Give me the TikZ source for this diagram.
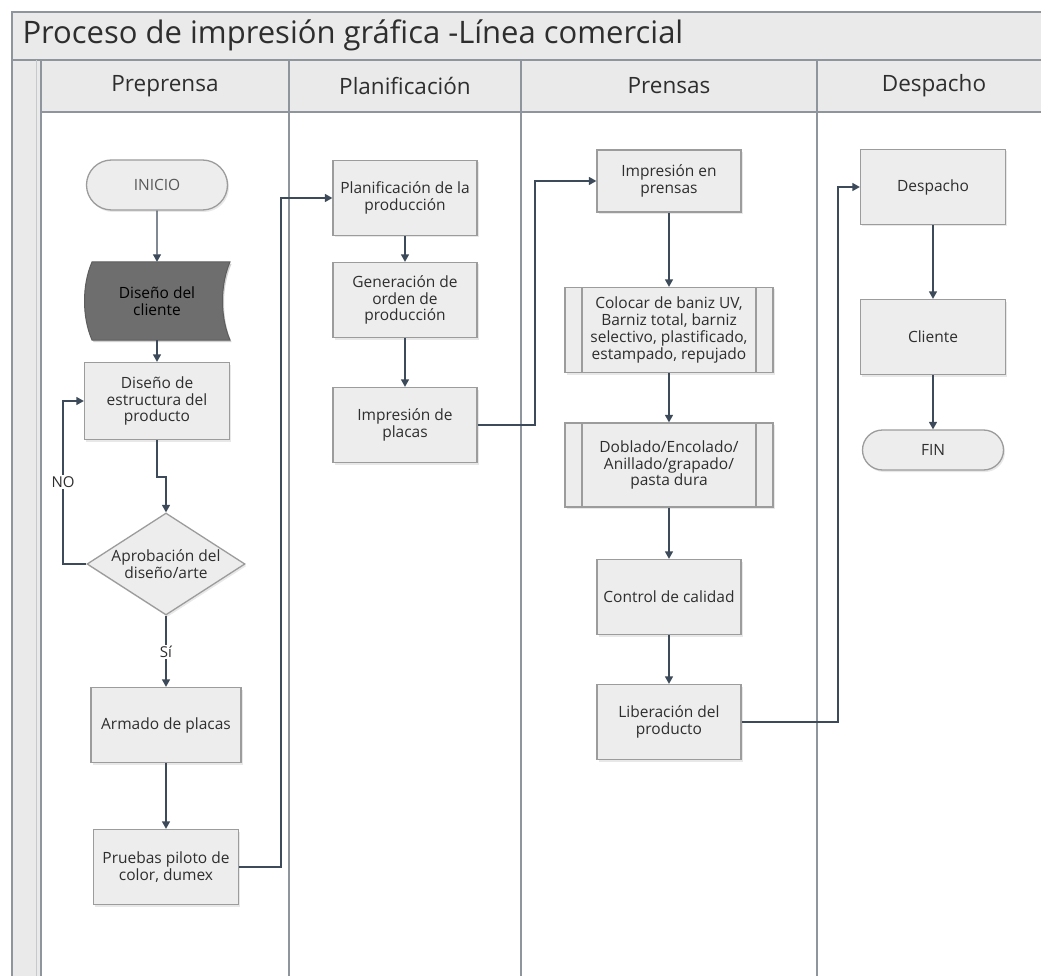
\documentclass[tikz,border=0pt]{standalone}
\usepackage{fontspec}
\setmainfont{Open Sans}
\usetikzlibrary{arrows.meta,shapes.misc,shapes.geometric,shadows,calc}

\definecolor{framecol}{HTML}{8E959C}
\definecolor{bandcol}{HTML}{EAEAEA}
\definecolor{boxfill}{HTML}{EDEDED}
\definecolor{boxline}{HTML}{9C9C9C}
\definecolor{flowcol}{HTML}{3D4A59}
\definecolor{darkfill}{HTML}{6E6E6E}
\definecolor{txtcol}{HTML}{2E2E2E}

\begin{document}
\begin{tikzpicture}[x=1pt,y=-1pt,
  boxtext/.style={align=center,text=txtcol,font=\fontsize{15.5}{16.8}\selectfont},
  softshadow/.style={drop shadow={opacity=0.18,shadow xshift=1.5pt,shadow yshift=-2pt}},
  stepbox/.style={boxtext,draw=boxline,line width=1.3pt,fill=boxfill,softshadow,
    minimum width=144pt,minimum height=75pt,inner sep=2pt},
  termbox/.style={boxtext,draw=boxline,line width=1.3pt,fill=boxfill,softshadow,
    rounded rectangle,minimum width=145pt,inner sep=2pt},
  subproc/.style={stepbox,minimum width=208pt,minimum height=85pt,
    path picture={
      \draw[boxline,line width=1.3pt]
        ([xshift=17pt]path picture bounding box.north west) --
        ([xshift=17pt]path picture bounding box.south west);
      \draw[boxline,line width=1.3pt]
        ([xshift=-17pt]path picture bounding box.north east) --
        ([xshift=-17pt]path picture bounding box.south east);}},
  decbox/.style={boxtext,draw=boxline,line width=1.3pt,fill=boxfill,softshadow,
    diamond,aspect=1.55,inner sep=-14pt,minimum width=158pt,minimum height=102pt},
  flow/.style={draw=flowcol,line width=1.4pt,-{Triangle[width=8pt,length=7.5pt]}},
  flowlabel/.style={fill=white,inner sep=1.5pt,text=txtcol,font=\fontsize{15}{16}\selectfont},
  lanehead/.style={text=txtcol,font=\fontsize{22.5}{26}\selectfont},
  laneline/.style={draw=framecol,line width=1.6pt}]

\useasboundingbox (0,0) rectangle (1041,976);
\fill[white] (0,0) rectangle (1041,976);

% swimlane frame
\begin{scope}
  \clip (0,0) rectangle (1041,976);
  \fill[bandcol] (12,12) rectangle (1080,112);
  \fill[bandcol] (12,112) rectangle (41,1000);
  \draw[laneline] (12,1000) -- (12,12) -- (1080,12);
  \draw[laneline] (12,60) -- (1080,60);
  \draw[laneline] (41,112) -- (1080,112);
  \draw[laneline] (41,60) -- (41,1000);
  \draw[draw=framecol!50,line width=0.8pt] (36,60) -- (36,1000);
  \foreach \lx in {289,521,817} \draw[laneline] (\lx,60) -- (\lx,1000);
\end{scope}

% title and lane headers
\node[anchor=west,text=txtcol,font=\fontsize{31}{34}\selectfont] (title) at (19,35)
  {Proceso de impresión gráfica -Línea comercial};
\node[lanehead] (h1) at (165,86) {Preprensa};
\node[lanehead] (h2) at (405,86) {Planificación};
\node[lanehead] (h3) at (669,86) {Prensas};
\node[lanehead] (h4) at (934,86) {Despacho};

% Preprensa
\node[termbox,minimum height=50pt,text=txtcol!80] (ini) at (157,185) {INICIO};
\coordinate (cli) at (157,301);
\node[stepbox,minimum width=145pt,minimum height=77pt] (est) at (157,401)
  {Diseño de\\estructura del\\producto};
\node[decbox] (dec) at (166,564) {Aprobación del\\diseño/arte};
\node[stepbox,minimum width=150pt] (arm) at (166,725) {Armado de placas};
\node[stepbox,minimum width=145pt] (pru) at (166,867) {Pruebas piloto de\\color, dumex};

% Planificación
\node[stepbox] (pla) at (405,198) {Planificación de la\\producción};
\node[stepbox] (gen) at (405,300) {Generación de\\orden de\\producción};
\node[stepbox] (imp) at (405,425) {Impresión de\\placas};

% Prensas
\node[stepbox,minimum height=62pt] (ipr) at (669,181) {Impresión en\\prensas};
\node[subproc] (col) at (669,330)
  {Colocar de baniz UV,\\Barniz total, barniz\\selectivo, plastificado,\\estampado, repujado};
\node[subproc,minimum height=84pt] (dob) at (669,465)
  {Doblado/Encolado/\\Anillado/grapado/\\pasta dura};
\node[stepbox] (ctl) at (669,597) {Control de calidad};
\node[stepbox] (lib) at (669,722) {Liberación del\\producto};

% Despacho
\node[stepbox,minimum width=145pt] (des) at (933,187) {Despacho};
\node[stepbox,minimum width=145pt] (clt) at (933,337) {Cliente};
\node[termbox,minimum height=40pt] (fin) at (933,450) {FIN};

% stored-data symbol: convex left side, concave right side
\fill[black,opacity=0.18]
  (93.5,264) -- (231.5,264) .. controls (221.5,287) and (221.5,319) .. (231.5,342)
  -- (93.5,342) .. controls (83.5,319) and (83.5,287) .. cycle;
\filldraw[fill=darkfill,draw=darkfill!85!black,line width=1pt]
  (92,262) -- (230,262) .. controls (220,285) and (220,317) .. (230,340)
  -- (92,340) .. controls (82,317) and (82,285) .. cycle;
\node[boxtext,text=black,minimum width=145pt,minimum height=78pt] (clibox) at (cli)
  {Diseño del\\cliente};

% connectors
\draw[flow] (ini) -- (clibox);
\draw[flow] (clibox) -- (est);
\draw[flow] (est.south) -- ++(0,37) -| (dec.north);
\draw[flow] (dec.west) -- (63,564) |- (est.west);
\node[flowlabel] (nolab) at (63,482) {NO};
\draw[flow] (dec.south) -- (arm.north);
\node[flowlabel] (silab) at (166,652) {Sí};
\draw[flow] (arm) -- (pru);
\draw[flow] (pru.east) -- (281,867) |- (pla.west);

\draw[flow] (pla) -- (gen);
\draw[flow] (gen) -- (imp);
\draw[flow] (imp.east) -- (535,425) |- (ipr.west);

\draw[flow] (ipr) -- (col);
\draw[flow] (col) -- (dob);
\draw[flow] (dob) -- (ctl);
\draw[flow] (ctl) -- (lib);
\draw[flow] (lib.east) -- (838,722) |- (des.west);

\draw[flow] (des) -- (clt);
\draw[flow] (clt) -- (fin);
\end{tikzpicture}
\end{document}
